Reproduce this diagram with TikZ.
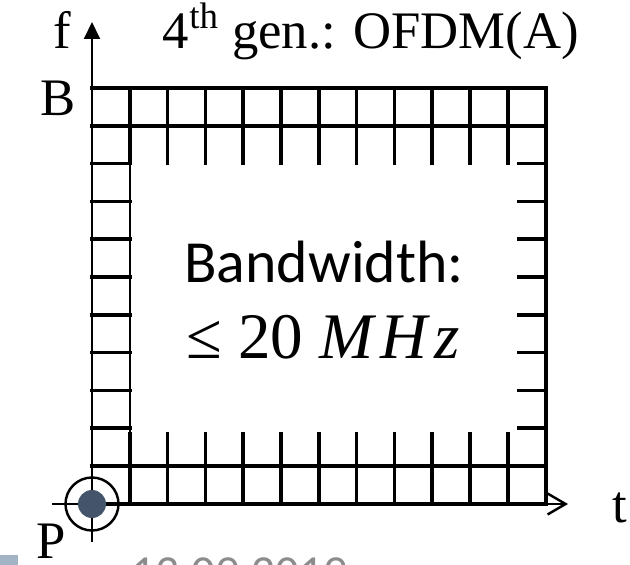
\RequirePackage{fix-cm}
\documentclass[tikz,border=0pt]{standalone}
\usepackage{fontspec}
\setmainfont{Liberation Serif}
\newfontfamily\calibri{Carlito}
\usepackage{tikz}
\usetikzlibrary{
    arrows.meta,
    positioning
}
\definecolor{dotblue}{HTML}{44546A}
\definecolor{footgray}{HTML}{8C8C8C}
\definecolor{barblue}{HTML}{A3B3C6}
\tikzstyle{gridline} = [
    line width=2pt,
    line cap=rect,
    draw=black
]
\tikzstyle{thinline} = [
    line width=1.1pt,
    draw=black
]
\tikzstyle{axislabel} = [
    inner sep=0pt,
    font=\fontsize{30}{36}\selectfont
]
\tikzstyle{faxis} = [
    -{Triangle[length=0.34cm, width=0.32cm]},
    line width=1.1pt
]
\tikzstyle{taxis} = [
    -{Straight Barb[length=0.36cm, width=0.42cm, line width=1.4pt]},
    line width=1.1pt
]
\tikzstyle{bigtext} = [
    inner sep=0pt,
    font=\calibri\fontsize{34}{40}\selectfont
]

\begin{document}
\begin{tikzpicture}[x=0.02cm, y=-0.02cm]
    \clip (0,0) rectangle (630,565);

    % Axes
    \coordinate (origin) at (92,504);
    \coordinate (ftop) at (92,22);
    \coordinate (fbot) at (92,542);
    \coordinate (tleft) at (52,504);
    \coordinate (tright) at (568,504);
    \draw[faxis] (fbot) -- (ftop);
    \draw[taxis] (tleft) -- (tright);

    % Full rows at top and bottom
    \foreach \y in {88,125.8,466,503.8}
        \draw[gridline] (92,\y) -- (546,\y);
    \foreach \i in {1,...,11} {
        \draw[gridline] (92+\i*37.8,88) -- (92+\i*37.8,163.6);
        \draw[gridline] (92+\i*37.8,434) -- (92+\i*37.8,503.8);
    }
    \draw[gridline] (546,88) -- (546,503.8);

    % Side columns
    \draw[thinline] (129.8,163.6) -- (129.8,434);
    \foreach \j in {2,...,9} {
        \draw[gridline] (92,88+\j*37.8) -- (129.8,88+\j*37.8);
        \draw[gridline] (519,88+\j*37.8) -- (546,88+\j*37.8);
    }

    % Terminal
    \fill[dotblue] (origin) circle[radius=0.28cm];
    \draw[line width=1.4pt] (origin) circle[radius=0.53cm];

    % Labels
    \node[axislabel, anchor=base] (flabel) at (62,48) {f};
    \node[axislabel, anchor=base] (blabel) at (58,115) {B};
    \node[axislabel, anchor=base] (plabel) at (51,558) {P};
    \node[axislabel, anchor=base] (tlabel) at (620,522) {t};
    \node[axislabel, anchor=base] (title) at (371,48) {4\textsuperscript{th} gen.: OFDM(A)};
    \node[bigtext, anchor=base] (bw) at (324,282) {Bandwidth:};
    \node[inner sep=0pt, anchor=base, font=\fontsize{37}{42}\selectfont]
        (bwval) at (323,358) {≤ 20 \textit{M\kern4pt H\kern4pt z}};

    % Footer
    \fill[barblue] (0,555) rectangle (18,565);
    \node[inner sep=0pt, anchor=base west, text=footgray,
          font=\calibri\fontsize{27}{30}\selectfont] (date) at (131,588) {13.09.2019};
\end{tikzpicture}
\end{document}
